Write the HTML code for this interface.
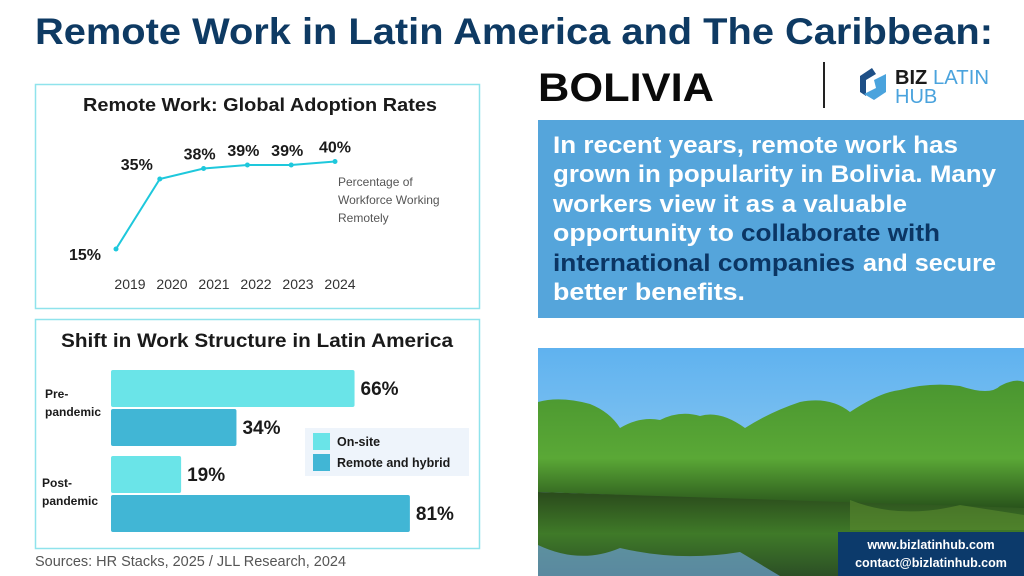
<!DOCTYPE html>
<html><head><meta charset="utf-8"><style>
html,body{margin:0;padding:0;background:#fff;}
svg{display:block;font-family:"Liberation Sans",sans-serif;}
</style></head><body>
<svg width="1024" height="576" viewBox="0 0 1024 576" xmlns="http://www.w3.org/2000/svg">
<defs>
<linearGradient id="sky" x1="0" y1="0" x2="0" y2="1"><stop offset="0" stop-color="#5fb2ef"/><stop offset="1" stop-color="#a8d6f3"/></linearGradient>
<linearGradient id="water" x1="0" y1="0" x2="0" y2="1"><stop offset="0" stop-color="#2a4a1c"/><stop offset="0.5" stop-color="#3f7a28"/><stop offset="1" stop-color="#2c4f26"/></linearGradient>
<linearGradient id="trees" x1="0" y1="0" x2="0" y2="1"><stop offset="0" stop-color="#4a9630"/><stop offset="0.6" stop-color="#5aa836"/><stop offset="1" stop-color="#27501a"/></linearGradient>
</defs>
<text x="35" y="44" font-size="37" font-weight="bold" fill="#0e3a63" textLength="958" lengthAdjust="spacingAndGlyphs">Remote Work in Latin America and The Caribbean:</text>
<text x="538" y="101" font-size="40" font-weight="bold" fill="#0a0a0a" textLength="176" lengthAdjust="spacingAndGlyphs">BOLIVIA</text>
<line x1="824" y1="62" x2="824" y2="108" stroke="#222" stroke-width="2"/>
<g>
<path d="M872 68 L860 76 L860 92 L866 96 L866 80 L876 74 Z" fill="#1e4f86"/>
<path d="M874 80 L886 74 L886 92 L874 100 L864 94 L876 88 Z" fill="#4aa3dd"/>
<text x="895" y="84" font-size="20" font-weight="bold" fill="#1a1a1a">BIZ</text>
<text x="933" y="84" font-size="20" fill="#4aa3dd" textLength="56" lengthAdjust="spacingAndGlyphs">LATIN</text>
<text x="895" y="103" font-size="20" fill="#4aa3dd">HUB</text>
</g>
<rect x="35.5" y="84.5" width="444" height="224" fill="none" stroke="#8fe3ec" stroke-width="1.5"/>
<text x="83" y="111" font-size="18.5" font-weight="bold" fill="#1a1a1a" textLength="354" lengthAdjust="spacingAndGlyphs">Remote Work: Global Adoption Rates</text>
<g id="linechart"></g>
<text font-size="12" fill="#555"><tspan x="338" y="186">Percentage of</tspan><tspan x="338" y="204">Workforce Working</tspan><tspan x="338" y="222">Remotely</tspan></text>
<rect x="35.5" y="319.5" width="444" height="229" fill="none" stroke="#8fe3ec" stroke-width="1.5"/>
<text x="61" y="347" font-size="19" font-weight="bold" fill="#1a1a1a" textLength="392" lengthAdjust="spacingAndGlyphs">Shift in Work Structure in Latin America</text>
<g id="barchart"></g>
<text font-size="12" font-weight="bold" fill="#1a1a1a"><tspan x="45" y="398">Pre-</tspan><tspan x="45" y="416">pandemic</tspan></text>
<text font-size="12" font-weight="bold" fill="#1a1a1a"><tspan x="42" y="487">Post-</tspan><tspan x="42" y="505">pandemic</tspan></text>
<g>
<rect x="305" y="428" width="164" height="48" fill="#eef4fb"/>
<rect x="313" y="433" width="17" height="17" fill="#6ae4e8"/>
<rect x="313" y="454" width="17" height="17" fill="#41b6d5"/>
<text x="337" y="446" font-size="12.5" font-weight="bold" fill="#1a1a1a">On-site</text>
<text x="337" y="467" font-size="12.5" font-weight="bold" fill="#1a1a1a">Remote and hybrid</text>
</g>
<text x="35" y="566" font-size="14.5" fill="#555" textLength="311" lengthAdjust="spacingAndGlyphs">Sources: HR Stacks, 2025 /  JLL Research, 2024</text>
<rect x="538" y="120" width="486" height="198" fill="#55a5db"/>
<g font-size="24.5" font-weight="bold" fill="#fff">
<text x="553" y="153" textLength="405" lengthAdjust="spacingAndGlyphs">In recent years, remote work has</text>
<text x="553" y="182" textLength="443" lengthAdjust="spacingAndGlyphs">grown in popularity in Bolivia. Many</text>
<text x="553" y="212" textLength="354" lengthAdjust="spacingAndGlyphs">workers view it as a valuable</text>
<text x="553" y="241" textLength="181" lengthAdjust="spacingAndGlyphs">opportunity to</text>
<text x="741" y="241" fill="#0b3563" textLength="199" lengthAdjust="spacingAndGlyphs">collaborate with</text>
<text x="553" y="271" fill="#0b3563" textLength="302" lengthAdjust="spacingAndGlyphs">international companies</text>
<text x="863" y="271" textLength="133" lengthAdjust="spacingAndGlyphs">and secure</text>
<text x="553" y="300" textLength="192" lengthAdjust="spacingAndGlyphs">better benefits.</text>
</g>
<g>
<rect x="538" y="348" width="486" height="228" fill="url(#sky)"/>
<path d="M538 402 Q560 396 590 404 Q610 412 620 428 Q640 416 660 420 Q680 410 700 416 Q720 410 745 428 Q770 412 800 402 Q830 396 850 412 Q880 392 900 390 Q930 382 960 386 Q990 396 1000 386 Q1015 378 1024 382 L1024 510 L538 492 Z" fill="url(#trees)"/>
<path d="M538 492 L1024 508 L1024 576 L538 576 Z" fill="url(#water)"/>
<path d="M538 545 Q580 565 620 548 Q680 562 740 552 L780 576 L538 576 Z" fill="#6a9cc8" opacity="0.75"/>
<path d="M850 500 Q900 520 960 505 L1024 515 L1024 530 L850 530 Z" fill="#5a8a2e" opacity="0.6"/>
</g>
<rect x="838" y="532" width="186" height="44" fill="#0c3a6b"/>
<text x="931" y="549" font-size="12.5" font-weight="bold" fill="#fff" text-anchor="middle">www.bizlatinhub.com</text>
<text x="931" y="567" font-size="12.5" font-weight="bold" fill="#fff" text-anchor="middle">contact@bizlatinhub.com</text>
</svg>
<script>
const years = ["2019","2020","2021","2022","2023","2024"];
const adoption = [15,35,38,39,39,40];
const adoptionLabels = ["15%","35%","38%","39%","39%","40%"];
const groups = ["Pre-pandemic","Post-pandemic"];
const onsite = [66,19];
const remote = [34,81];

const NS="http://www.w3.org/2000/svg";
function mk(tag,attrs,parent,txt){const e=document.createElementNS(NS,tag);for(const k in attrs)e.setAttribute(k,attrs[k]);if(txt!==undefined)e.textContent=txt;parent.appendChild(e);return e;}
const lc=document.getElementById('linechart');
const xL=i=>116+43.8*i;
const yL=v=>301.5-3.5*v;
const pts=adoption.map((v,i)=>xL(i)+','+yL(v)).join(' ');
const pl=mk('polyline',{points:pts,fill:'none',stroke:'#1ec8dc','stroke-width':2},lc);


adoption.forEach((v,i)=>{
  const c=mk('circle',{cx:xL(i),cy:yL(v),r:2.5,fill:'#1ec8dc'},lc);
  
  
  const lx = i===0 ? xL(i)-31 : (i===1? xL(i)-23 : xL(i)+(i===5?0:-4));
  const ly = i===0 ? yL(v)+11 : yL(v)-9;
  const t=mk('text',{x:lx,y:ly,'font-size':16,'font-weight':'bold',fill:'#1a1a1a','text-anchor':'middle'},lc,adoptionLabels[i]);
  
  
  const yt=mk('text',{x:130+42*i,y:289,'font-size':14,fill:'#333','text-anchor':'middle'},lc,years[i]);
  
  
});
const bc=document.getElementById('barchart');
const xB=v=>3.69*v;
const rowTop=[370,456];
groups.forEach((g,gi)=>{
  [[onsite,'#6ae4e8','onsite'],[remote,'#41b6d5','remote']].forEach((s,si)=>{
    const v=s[0][gi];const y=rowTop[gi]+si*39;
    const r=mk('rect',{x:111,y:y,width:xB(v),height:37,rx:2,fill:s[1]},bc);
    
    
    const t=mk('text',{x:111+xB(v)+6,y:y+25,'font-size':19,'font-weight':'bold',fill:'#1a1a1a'},bc,v+'%');
    
    
  });
});
</script>
</body></html>
